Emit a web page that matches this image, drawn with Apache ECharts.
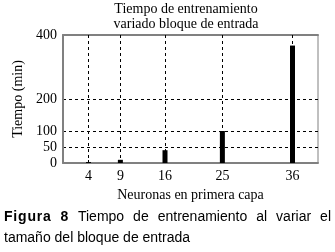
<!DOCTYPE html>
<html><head><meta charset="utf-8">
<script src="https://cdn.jsdelivr.net/npm/echarts@6/dist/echarts.min.js"></script>
<style>
html,body{margin:0;padding:0;background:#fff;}
#wrap{position:relative;width:335px;height:252px;}
#chart{position:absolute;left:0;top:0;width:335px;height:252px;}
#cap{position:absolute;left:4px;top:206px;width:327px;font-family:"Liberation Sans",Arial,sans-serif;font-size:14px;line-height:21px;color:#000;text-align:left;}
#cap .l1{display:block;text-align:justify;text-align-last:justify;}
#cap b{letter-spacing:0.8px;}
</style>
</head><body>
<div id="wrap"><div id="chart"></div>
<div id="cap"><span class="l1"><b>Figura</b> <b>8</b> Tiempo de entrenamiento al variar el</span>tamaño del bloque de entrada</div>
</div>
<script>
const titleLines = ["Tiempo de entrenamiento", "variado bloque de entrada"];
const xName = "Neuronas en primera capa";
const yName = "Tiempo (min)";
const neurons = [4, 9, 16, 25, 36];
const minutes = [3, 10, 40, 100, 367];
const yTicks = [0, 50, 100, 200, 400];

const chart = echarts.init(document.getElementById('chart'), null, {renderer: 'canvas'});
const serif = '"Liberation Serif","Times New Roman",serif';
chart.setOption({
  animation: false,
  backgroundColor: '#fff',
  title: {
    text: titleLines.join('\n'), left: 186, top: 2, padding: 0, textAlign: 'center',
    textStyle: {fontFamily: serif, fontSize: 14, fontWeight: 'normal', color: '#000', lineHeight: 15}
  },
  grid: {left: 63, right: 17, top: 35, bottom: 89, show: true, borderColor: '#808080', borderWidth: 1, backgroundColor: 'transparent'},
  xAxis: [{
    type: 'value', min: 0, max: 40,
    name: xName, nameLocation: 'middle', nameGap: 24,
    nameTextStyle: {fontFamily: serif, fontSize: 14, color: '#000'},
    axisLine: {show: true, lineStyle: {color: '#808080', width: 2}},
    axisTick: {show: true, inside: true, length: 3, customValues: neurons, lineStyle: {color: '#000'}},
    axisLabel: {customValues: neurons, fontFamily: serif, fontSize: 14, color: '#000', margin: 6},
    splitLine: {show: true, lineStyle: {color: '#000', type: [3, 3], width: 1}}
  }, {
    type: 'value', min: 0, max: 40, position: 'top',
    axisLine: {show: true, lineStyle: {color: '#808080', width: 2}},
    axisTick: {show: true, inside: true, length: 3, customValues: neurons, lineStyle: {color: '#000'}},
    axisLabel: {show: false}, splitLine: {show: false}
  }],
  yAxis: {
    type: 'value', min: 0, max: 400,
    name: yName, nameLocation: 'middle', nameGap: 37, nameRotate: 90,
    nameTextStyle: {fontFamily: serif, fontSize: 14, color: '#000'},
    axisLine: {show: true, lineStyle: {color: '#808080', width: 2}},
    axisTick: {show: false, customValues: yTicks},
    axisLabel: {customValues: yTicks, fontFamily: serif, fontSize: 14, color: '#000', margin: 6},
    splitLine: {show: true, lineStyle: {color: '#000', type: [3, 3], width: 1}}
  },
  series: [{
    type: 'bar', xAxisIndex: 0, barWidth: 5,
    itemStyle: {color: '#000'},
    data: neurons.map((n, i) => [n, minutes[i]])
  }]
});
</script>
</body></html>
